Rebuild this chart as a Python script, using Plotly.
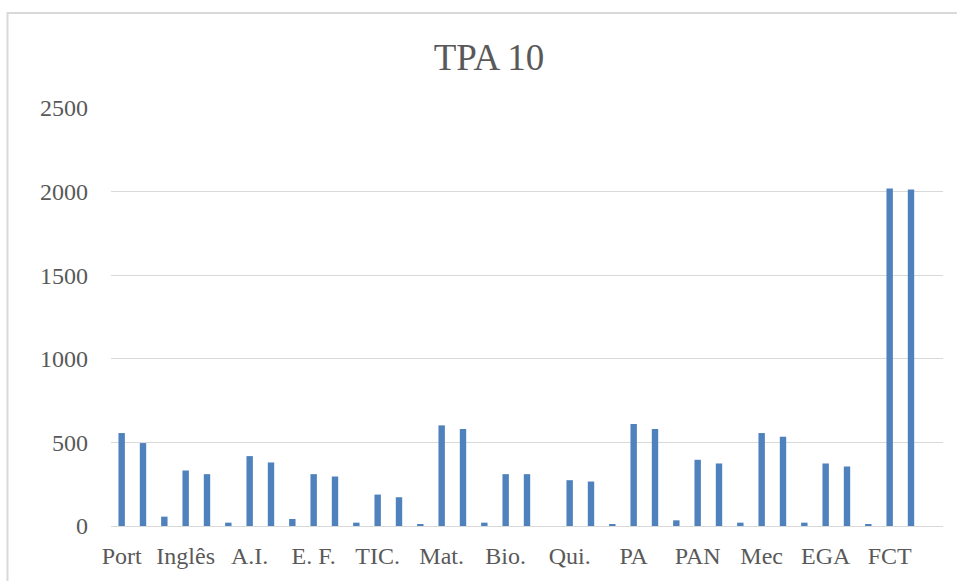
import plotly.graph_objects as go

# subjects shown on the axis (one label per group of three bars)
subjects = ["Port", "Inglês", "A.I.", "E. F.", "TIC.", "Mat.", "Bio.",
            "Qui.", "PA", "PAN", "Mec", "EGA", "FCT"]
# three bars per subject
first_vals = [556, 332, 418, 310, 188, 602, 310, 274, 610, 396, 556, 374, 2018]
second_vals = [496, 310, 380, 296, 172, 580, 310, 266, 580, 374, 534, 356, 2012]
third_vals = [56, 20, 42, 20, 10, 20, 0, 10, 34, 20, 20, 10, 0]

BLUE = "#4f81bd"
GREY = "#595959"
GRID = "#d9d9d9"
FONT = "Liberation Serif"

values = []
for a, b, c in zip(first_vals, second_vals, third_vals):
    values += [a, b, c]
positions = list(range(len(values)))

fig = go.Figure()
fig.add_trace(go.Bar(x=positions, y=values, marker_color=BLUE,
                     marker_line_width=0, showlegend=False))

fig.update_layout(
    width=957,
    height=581,
    margin=dict(l=111, r=14, t=108, b=53),
    paper_bgcolor="white",
    plot_bgcolor="white",
    bargap=0.7,
    font=dict(family=FONT, color=GREY, size=24),
    title=dict(text="TPA 10", x=0.511, xref="container", xanchor="center",
               y=0.902, yanchor="middle", font=dict(size=37, color=GREY, family=FONT)),
    xaxis=dict(
        range=[-0.5, len(values) - 0.5],
        tickmode="array",
        tickvals=positions[::3],
        ticktext=subjects,
        showgrid=False,
        showline=False,
        zeroline=False,
        ticks="",
        ticklabelstandoff=13,
    ),
    yaxis=dict(
        range=[0, 2500],
        tickvals=[0, 500, 1000, 1500, 2000, 2500],
        showgrid=True,
        gridcolor=GRID,
        gridwidth=1,
        zeroline=True,
        zerolinecolor=GRID,
        zerolinewidth=1,
        ticks="",
        ticklabelstandoff=22,
    ),
)

# outer chart border (partly cropped in the reference)
fig.add_shape(type="rect", xref="paper", yref="paper",
              x0=-0.1244, x1=1.2, y0=-0.3, y1=1.2274,
              line=dict(color=GRID, width=2), fillcolor="rgba(0,0,0,0)", layer="below")

# drop the browser's default page margin so the figure sits at the top-left corner
fig.write_html("out.html", config={"displayModeBar": False},
               post_script="document.body.style.margin='0px';")
